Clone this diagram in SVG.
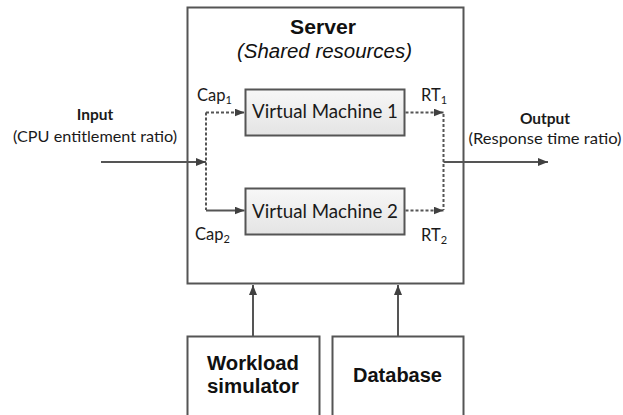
<svg xmlns="http://www.w3.org/2000/svg" width="623" height="415" viewBox="0 0 623 415">
<defs>
  <linearGradient id="vmfill" x1="0" y1="0" x2="0" y2="1">
    <stop offset="0" stop-color="#f7f7f7"/>
    <stop offset="1" stop-color="#e4e4e4"/>
  </linearGradient>
  <marker id="arr" viewBox="0 0 10 8" refX="10" refY="4" markerWidth="10" markerHeight="8" markerUnits="userSpaceOnUse" orient="auto">
    <path d="M0,0 L10,4 L0,8 z" fill="#404040"/>
  </marker>
</defs>
<style>
  .box { fill: #ffffff; stroke: #555555; stroke-width: 2; }
  .vm { fill: url(#vmfill); stroke: #555555; stroke-width: 2; }
  .solid { fill: none; stroke: #555555; stroke-width: 2; }
  .dot { fill: none; stroke: #555555; stroke-width: 2; stroke-dasharray: 3 2; }
  .arial { font-family: "Liberation Sans", Arial, sans-serif; fill: #111111; }
  .cal { font-family: Lato, "Open Sans", sans-serif; fill: #1a1a1a; }
  .b { font-weight: bold; }
  .i { font-style: italic; }
  .mid { text-anchor: middle; }
</style>

<g id="server">
  <rect class="box" x="187.5" y="7.5" width="276" height="276"/>
  <text class="arial b mid" x="323" y="34" font-size="20" textLength="66" lengthAdjust="spacingAndGlyphs">Server</text>
  <text class="arial i mid" x="324.5" y="58" font-size="20.5" textLength="175" lengthAdjust="spacingAndGlyphs">(Shared resources)</text>
</g>

<g id="vm1">
  <rect class="vm" x="245.5" y="89.5" width="159" height="46"/>
  <text class="cal mid" x="325" y="118" font-size="18.5" textLength="146" lengthAdjust="spacingAndGlyphs">Virtual Machine 1</text>
</g>

<g id="vm2">
  <rect class="vm" x="245.5" y="188.5" width="159" height="46"/>
  <text class="cal mid" x="325" y="217.5" font-size="18.5" textLength="146" lengthAdjust="spacingAndGlyphs">Virtual Machine 2</text>
</g>

<g id="workload">
  <rect class="box" x="187.5" y="336.5" width="132" height="100"/>
  <text class="arial b mid" x="253" y="370" font-size="20" textLength="92" lengthAdjust="spacingAndGlyphs">Workload</text>
  <text class="arial b mid" x="253" y="393" font-size="20" textLength="92" lengthAdjust="spacingAndGlyphs">simulator</text>
</g>

<g id="database">
  <rect class="box" x="332.5" y="336.5" width="131" height="100"/>
  <text class="arial b mid" x="397.5" y="381.5" font-size="20" textLength="89" lengthAdjust="spacingAndGlyphs">Database</text>
</g>

<g id="input-label">
  <text class="cal b mid" x="95" y="120" font-size="15.5">Input</text>
  <text class="cal mid" x="95" y="142" font-size="15.8" textLength="164" lengthAdjust="spacingAndGlyphs">(CPU entitlement ratio)</text>
</g>

<g id="output-label">
  <text class="cal b mid" x="545" y="124" font-size="15.5">Output</text>
  <text class="cal mid" x="545" y="144" font-size="15.8" textLength="153" lengthAdjust="spacingAndGlyphs">(Response time ratio)</text>
</g>

<g id="signal-labels">
  <text class="cal" x="197" y="101" font-size="16.5">Cap<tspan font-size="11" dy="3">1</tspan></text>
  <text class="cal" x="421" y="100.5" font-size="16.5">RT<tspan font-size="11" dy="3">1</tspan></text>
  <text class="cal" x="195" y="240" font-size="16.5">Cap<tspan font-size="11" dy="3">2</tspan></text>
  <text class="cal" x="421" y="241" font-size="16.5">RT<tspan font-size="11" dy="3">2</tspan></text>
</g>

<g id="connectors">
  <line class="solid" x1="101" y1="162" x2="206" y2="162" marker-end="url(#arr)"/>
  <line class="dot" x1="206" y1="112.5" x2="206" y2="210"/>
  <line class="dot" x1="206" y1="112.5" x2="244.5" y2="112.5" marker-end="url(#arr)"/>
  <line class="solid" x1="206" y1="210.5" x2="244.5" y2="210.5" marker-end="url(#arr)"/>
  <line class="dot" x1="405.5" y1="112.5" x2="443.5" y2="112.5" marker-end="url(#arr)"/>
  <line class="dot" x1="405.5" y1="210.5" x2="443.5" y2="210.5" marker-end="url(#arr)"/>
  <line class="dot" x1="443.5" y1="114" x2="443.5" y2="210"/>
  <line class="solid" x1="443.5" y1="162" x2="548" y2="162" marker-end="url(#arr)"/>
  <line class="solid" x1="253" y1="336" x2="253" y2="285" marker-end="url(#arr)"/>
  <line class="solid" x1="398" y1="336" x2="398" y2="285" marker-end="url(#arr)"/>
</g>
</svg>
